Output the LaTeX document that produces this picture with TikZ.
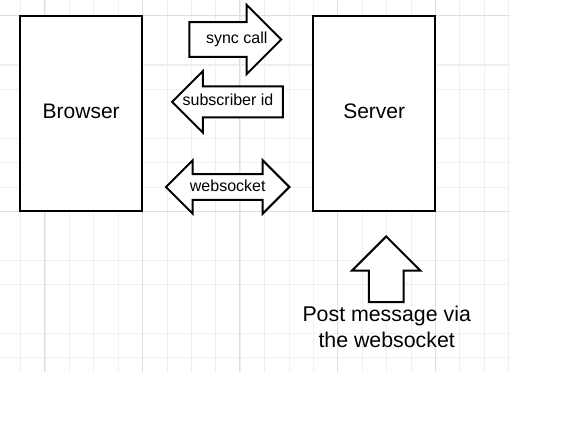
\documentclass[tikz,border=0pt]{standalone}
\usepackage{fontspec}
\setmainfont{Liberation Sans}
\usetikzlibrary{shapes.arrows}
\begin{document}
\begin{tikzpicture}[x=0.75pt,y=-0.75pt]
%styles
\tikzstyle{gridMinor}=[draw=black!6, line width=0.75pt]
\tikzstyle{gridMajor}=[draw=black!13, line width=0.75pt]
\tikzstyle{boxNode}=[rectangle, draw, fill=white, line width=1.5pt, minimum width=91.5pt, minimum height=146pt, text depth=3.5pt, font=\fontsize{15.75}{19}\selectfont]
\tikzstyle{arrowNode}=[single arrow, draw, fill=white, line width=1.5pt, inner xsep=0pt, anchor=tip]
\tikzstyle{dArrowNode}=[double arrow, draw, fill=white, line width=1.5pt, inner xsep=0pt, text height=8.5pt, text depth=2.5pt, font=\fontsize{12}{14}\selectfont]
\tikzstyle{textLine}=[rectangle, inner sep=0pt, text height=8.5pt, text depth=2.5pt, font=\fontsize{12}{14}\selectfont]
\tikzstyle{textw}=[rectangle, align=center, font=\fontsize{16}{20}\selectfont]
\useasboundingbox (0,0) rectangle (577,428);
%grid
\foreach \gx in {0,...,20} \draw[gridMinor] (20.7+24.4*\gx,0) -- (20.7+24.4*\gx,372);
\foreach \gy in {65,89,138,162,187,260,284,333,357} \draw[gridMinor] (0,\gy) -- (510,\gy);
\foreach \gx in {0,...,4} \draw[gridMajor] (44.3+97.7*\gx,0) -- (44.3+97.7*\gx,372);
\foreach \gy in {16,211} \draw[gridMajor] (0,\gy) -- (510,\gy);
%nodes
\node[boxNode] (browser) at (81.2,113.2) {Browser};
\node[boxNode] (server) at (374.2,113.2) {Server};
\node[arrowNode, inner ysep=12.25pt, minimum height=69pt, minimum width=50.7pt, single arrow head extend=13pt] (syncCall) at (282.7,39.5) {};
\node[arrowNode, shape border rotate=180, inner ysep=10.9pt, minimum height=83pt, minimum width=44.5pt, single arrow head extend=11.4pt] (subscriberId) at (170.7,101.8) {};
\node[dArrowNode, inner ysep=3.35pt, minimum height=92.5pt, minimum width=38.5pt, double arrow head extend=10.4pt] (websocket) at (227.7,187) {websocket};
\node[arrowNode, shape border rotate=90, inner xsep=12.25pt, inner ysep=0pt, minimum height=49.3pt, minimum width=49.7pt, single arrow head extend=12.6pt] (postArrow) at (386.2,235) {};
%text
\node[textLine] (syncText) at (236.7,39.5) {sync call};
\node[textLine] (subscriberText) at (228,101.8) {subscriber id};
\node[textw] (postText) at (386.7,327) {Post message via\\the websocket};
\end{tikzpicture}
\end{document}
